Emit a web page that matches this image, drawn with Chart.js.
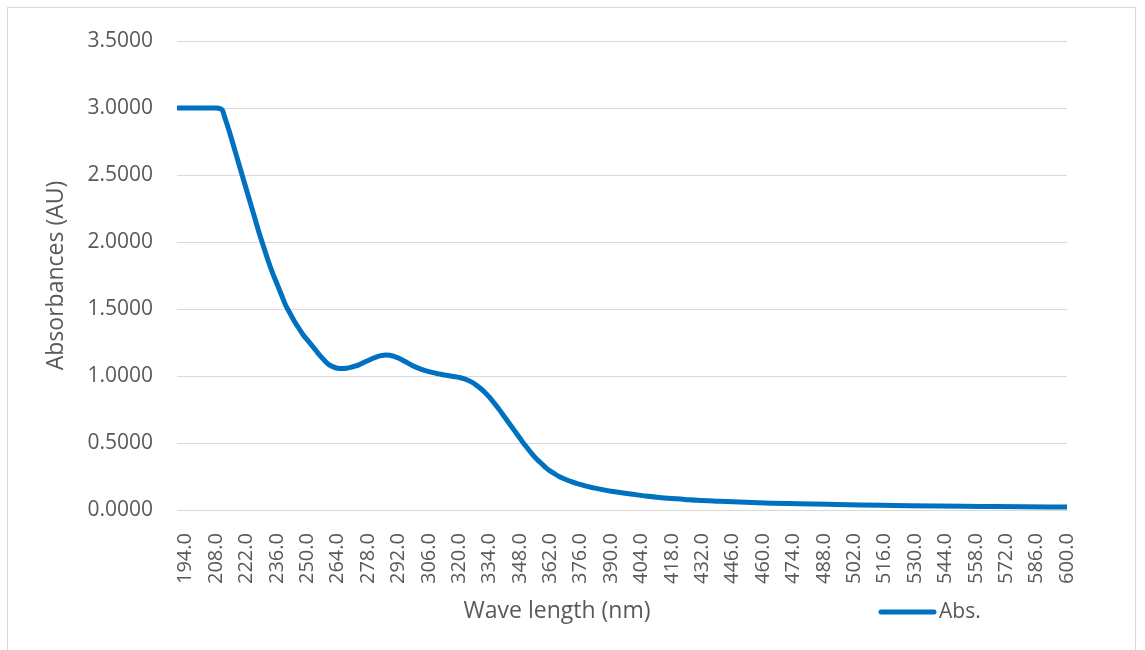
<!DOCTYPE html>
<html>

<head>
  <meta charset="utf-8">
  <title>Absorbance spectrum</title>
  <style>
    html, body { margin: 0; padding: 0; background: #ffffff; }
    #frame {
      position: absolute; left: 7px; top: 7px; width: 1129px; height: 650px;
      border: 1px solid #d9d9d9; box-sizing: border-box;
    }
    #mychart { position: absolute; left: 0; top: 0; }
  </style>
</head>

<body>
  <div id="frame"></div>
  <canvas id="mychart" width="1145" height="650"></canvas>

  <script src="https://cdn.jsdelivr.net/npm/chart.js"></script>

  <script>
    // Comprimentos de onda (nm) e absorbâncias
    const waves = [190, 200, 208, 210, 211, 212, 214, 216, 218, 220, 222, 224, 226, 228, 230, 232, 234, 236, 238, 240,
      242, 244, 246, 248, 250, 252, 254, 256, 258, 260, 262, 264, 266, 268, 270, 272, 274, 276, 278, 280,
      282, 284, 286, 288, 290, 292, 294, 296, 298, 300, 302, 304, 306, 308, 310, 312, 314, 316, 318, 320,
      322, 324, 326, 328, 330, 332, 334, 336, 338, 340, 342, 344, 346, 348, 350, 352, 354, 356, 358, 360,
      362, 364, 366, 368, 370, 372, 374, 376, 378, 382, 386, 390, 394, 398, 402, 406, 412, 418, 424, 430,
      440, 452, 464, 476, 490, 505, 520, 540, 560, 580, 600];
    const absorb = [3.0, 3.0, 3.0, 2.995, 2.98, 2.93, 2.83, 2.72, 2.61, 2.50, 2.39, 2.28, 2.17, 2.06, 1.96, 1.86, 1.77, 1.69, 1.61, 1.53,
      1.47, 1.41, 1.36, 1.31, 1.27, 1.23, 1.19, 1.15, 1.115, 1.085, 1.068, 1.058, 1.056, 1.058, 1.064, 1.073, 1.085, 1.10, 1.115, 1.13,
      1.143, 1.152, 1.157, 1.155, 1.147, 1.134, 1.118, 1.10, 1.082, 1.066, 1.053, 1.042, 1.033, 1.025, 1.018, 1.011, 1.005, 1.0, 0.995, 0.989,
      0.98, 0.968, 0.952, 0.93, 0.905, 0.875, 0.84, 0.80, 0.76, 0.715, 0.67, 0.625, 0.58, 0.535, 0.49, 0.45, 0.41, 0.375, 0.345, 0.315,
      0.29, 0.27, 0.25, 0.235, 0.222, 0.21, 0.198, 0.19, 0.18, 0.165, 0.152, 0.14, 0.13, 0.121, 0.113, 0.104, 0.094, 0.086, 0.079, 0.072,
      0.065, 0.057, 0.051, 0.047, 0.042, 0.037, 0.034, 0.030, 0.027, 0.024, 0.022];

    // Rótulos do eixo x (a cada 14 nm)
    const tickWaves = [194, 208, 222, 236, 250, 264, 278, 292, 306, 320, 334, 348, 362, 376, 390,
      404, 418, 432, 446, 460, 474, 488, 502, 516, 530, 544, 558, 572, 586, 600];

    const cinza = '#595959';
    const fonte = '"Open Sans", sans-serif';

    // Título do eixo x e legenda desenhados à mão (como no Excel)
    const rodape = {
      id: 'rodape',
      afterDraw(chart) {
        const ctx = chart.ctx;
        const ds = chart.data.datasets[0];
        ctx.save();
        ctx.fillStyle = cinza;
        ctx.font = '23px ' + fonte;
        ctx.textAlign = 'center';
        ctx.textBaseline = 'middle';
        ctx.fillText('Wave length (nm)', 557, 611);

        ctx.strokeStyle = ds.borderColor;
        ctx.lineWidth = 5;
        ctx.lineCap = 'round';
        ctx.beginPath();
        ctx.moveTo(881, 612);
        ctx.lineTo(934, 612);
        ctx.stroke();
        ctx.textAlign = 'left';
        ctx.font = '21px ' + fonte;
        ctx.fillText(ds.label, 939, 612);
        ctx.restore();
      }
    };

    const ctx = document.getElementById('mychart').getContext('2d');
    const myChart = new Chart(ctx, {
      type: 'line',
      data: {
        datasets: [{
          label: 'Abs.',
          data: waves.map((w, i) => ({ x: w, y: absorb[i] })),
          borderColor: '#0070c0',
          borderWidth: 5,
          borderCapStyle: 'round',
          borderJoinStyle: 'round',
          pointRadius: 0,
          cubicInterpolationMode: 'monotone',
          fill: false,
        }],
      },
      options: {
        responsive: false,
        animation: false,
        layout: { padding: { left: 0, top: 41, right: 78, bottom: 0 } },
        plugins: {
          legend: { display: false },
          tooltip: { enabled: false },
        },
        scales: {
          x: {
            type: 'linear',
            min: 190,
            max: 600,
            afterBuildTicks: (scale) => { scale.ticks = tickWaves.map(v => ({ value: v })); },
            afterFit: (scale) => { scale.height = 140; },
            grid: { display: false },
            border: { display: true, color: '#d9d9d9', width: 1 },
            ticks: {
              autoSkip: false,
              minRotation: 90,
              maxRotation: 90,
              padding: 15,
              color: cinza,
              font: { family: fonte, size: 20 },
              callback: (v) => Number(v).toFixed(1),
            },
          },
          y: {
            min: 0,
            max: 3.5,
            afterFit: (scale) => { scale.width = 177; },
            grid: { color: '#d9d9d9', lineWidth: 1, drawTicks: false },
            border: { display: false },
            ticks: {
              stepSize: 0.5,
              padding: 24,
              color: cinza,
              font: { family: fonte, size: 21 },
              callback: (v) => Number(v).toFixed(4),
            },
            title: {
              display: true,
              text: 'Absorbances (AU)',
              color: cinza,
              font: { family: fonte, size: 23 },
              padding: { top: 43 },
            },
          },
        },
      },
      plugins: [rodape],
    });
  </script>
</body>

</html>
